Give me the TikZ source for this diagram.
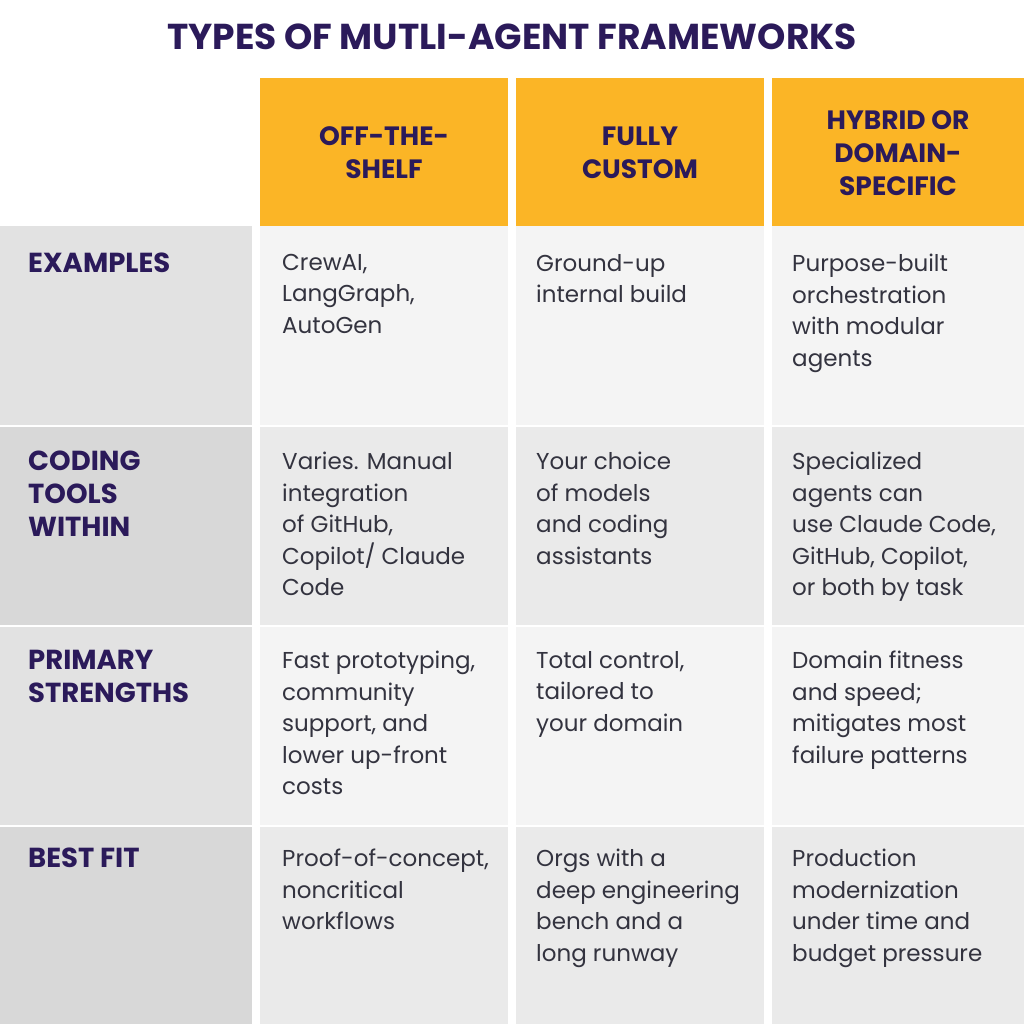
\documentclass[tikz,border=0pt]{standalone}
\usepackage{fontspec}
\setmainfont{Poppins}
\definecolor{navy}{HTML}{2B1A5A}
\definecolor{hdr}{HTML}{FBB526}
\definecolor{txt}{HTML}{33333F}
\definecolor{lightc}{HTML}{F4F4F4}
\definecolor{darkc}{HTML}{EAEAEA}
\definecolor{lab1}{HTML}{E2E2E2}
\definecolor{lab2}{HTML}{D8D8D8}
\begin{document}
\begin{tikzpicture}[x=1pt,y=-1pt,
  body/.style={anchor=north west,align=left,inner sep=0pt,font=\fontsize{23}{31.5}\selectfont,text=txt},
  lab/.style={anchor=north west,align=left,inner sep=0pt,font=\fontsize{27.5}{33}\selectfont\bfseries,text=navy},
  head/.style={align=center,inner sep=0pt,font=\fontsize{26.5}{33}\selectfont\bfseries,text=navy}]
\fill[white] (0,0) rectangle (1024,1024);
\useasboundingbox (0,0) rectangle (1024,1024);
\node[font=\fontsize{36}{40}\selectfont\bfseries,text=navy] (title) at (512,37) {TYPES OF MUTLI-AGENT FRAMEWORKS};
% header
\fill[hdr] (260,78) rectangle (508,226);
\fill[hdr] (516,78) rectangle (764,226);
\fill[hdr] (772,78) rectangle (1024,226);
\node[head] (h1) at (384,153) {OFF-THE-\\SHELF};
\node[head] (h2) at (640,153) {FULLY\\CUSTOM};
\node[head] (h3) at (898,153) {HYBRID OR\\DOMAIN-\\SPECIFIC};
% rows
\foreach \t/\b/\c/\l in {226/425/lightc/lab1,427/625/darkc/lab2,627/825/lightc/lab1,827/1024/darkc/lab2}{
  \fill[\l] (0,\t) rectangle (252,\b);
  \fill[\c] (260,\t) rectangle (508,\b);
  \fill[\c] (516,\t) rectangle (764,\b);
  \fill[\c] (772,\t) rectangle (1024,\b);
}
\node[lab] (l1) at (28,253) {EXAMPLES};
\node[lab] (l2) at (28,451) {CODING\\TOOLS\\WITHIN};
\node[lab] (l3) at (28,650) {PRIMARY\\STRENGTHS};
\node[lab] (l4) at (28,848) {BEST FIT};
\node[body] (a1) at (282,254) {CrewAI,\\LangGraph,\\AutoGen};
\node[body] (b1) at (536,254) {Ground-up\\internal build};
\node[body] (c1) at (792,254) {Purpose-built\\orchestration\\with modular\\agents};
\node[body] (a2) at (282,452) {Varies. Manual\\integration\\of GitHub,\\Copilot/ Claude\\Code};
\node[body] (b2) at (536,452) {Your choice\\of models\\and coding\\assistants};
\node[body] (c2) at (792,452) {Specialized\\agents can\\use Claude Code,\\GitHub, Copilot,\\or both by task};
\node[body] (a3) at (282,651) {Fast prototyping,\\community\\support, and\\lower up-front\\costs};
\node[body] (b3) at (536,651) {Total control,\\tailored to\\your domain};
\node[body] (c3) at (792,651) {Domain fitness\\and speed;\\mitigates most\\failure patterns};
\node[body] (a4) at (282,849) {Proof-of-concept,\\noncritical\\workflows};
\node[body] (b4) at (536,849) {Orgs with a\\deep engineering\\bench and a\\long runway};
\node[body] (c4) at (792,849) {Production\\modernization\\under time and\\budget pressure};
\end{tikzpicture}
\end{document}
